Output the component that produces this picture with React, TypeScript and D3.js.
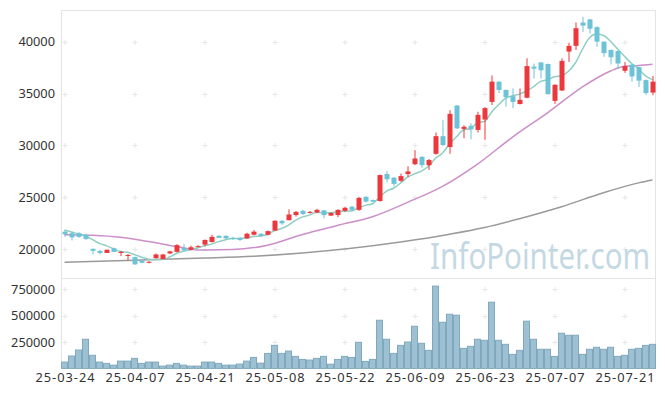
import { useEffect, useRef } from 'react';
import * as d3 from 'd3';

const dates = [
  '25-03-24', '25-03-25', '25-03-26', '25-03-27', '25-03-28', '25-03-31',
  '25-04-01', '25-04-02', '25-04-03', '25-04-04',
  '25-04-07', '25-04-08', '25-04-09', '25-04-10', '25-04-11',
  '25-04-14', '25-04-15', '25-04-16', '25-04-17', '25-04-18',
  '25-04-21', '25-04-22', '25-04-23', '25-04-24', '25-04-25',
  '25-04-28', '25-04-29', '25-04-30', '25-05-02', '25-05-07',
  '25-05-08', '25-05-09', '25-05-12', '25-05-13', '25-05-14', '25-05-15', '25-05-16',
  '25-05-19', '25-05-20', '25-05-21', '25-05-22', '25-05-23',
  '25-05-26', '25-05-27', '25-05-28', '25-05-29', '25-05-30',
  '25-06-02', '25-06-04', '25-06-05',
  '25-06-09', '25-06-10', '25-06-11', '25-06-12', '25-06-13',
  '25-06-16', '25-06-17', '25-06-18', '25-06-19', '25-06-20',
  '25-06-23', '25-06-24', '25-06-25', '25-06-26', '25-06-27',
  '25-06-30', '25-07-01', '25-07-02', '25-07-03', '25-07-04',
  '25-07-07', '25-07-08', '25-07-09', '25-07-10', '25-07-11',
  '25-07-14', '25-07-15', '25-07-16', '25-07-17', '25-07-18',
  '25-07-21', '25-07-22', '25-07-23', '25-07-24', '25-07-25',
];

const opens = [
  21700, 21550, 21550, 21400, 20050, 19850, 19650, 20100, 19650, 19400,
  19250, 18900, 18700, 19150, 19050, 19600, 19750, 20150, 19950, 20250,
  20450, 20700, 21300, 21300, 21100, 21100, 21050, 21400, 21500, 21400,
  21800, 22750, 22800, 23300, 23700, 23500, 23550, 23750, 23250, 23300,
  23700, 24100, 23800, 25050, 24750, 24650, 27250, 26900, 26600, 27250,
  28200, 28900, 28100, 29200, 30900, 29850, 33850, 31600, 31900, 31500,
  32500, 34200, 36150, 35350, 34750, 34000, 34600, 37600, 38000, 37850,
  34300, 35300, 39050, 39600, 41850, 42150, 41400, 40000, 39200, 39100,
  37200, 37800, 37550, 36300, 35100,
];
const highs = [
  21850, 21650, 21650, 21500, 20050, 19950, 20000, 20150, 19850, 19550,
  19300, 18950, 18850, 19600, 19550, 19850, 20500, 20500, 20350, 20400,
  20950, 21400, 21350, 21350, 21200, 21150, 21600, 21850, 21550, 21800,
  22800, 22800, 23850, 23700, 23800, 23700, 23900, 23800, 23550, 23850,
  24100, 24200, 25050, 25150, 24800, 27200, 27550, 26950, 27300, 28000,
  29550, 29000, 28700, 31250, 32450, 33400, 33900, 31950, 32150, 33250,
  33700, 36750, 36200, 35400, 35500, 35500, 38400, 37900, 38050, 37900,
  35900, 38400, 39900, 41850, 42400, 42200, 41500, 40050, 39250, 39150,
  38050, 37850, 37600, 36350, 36700,
];
const lows = [
  21200, 20850, 21100, 20900, 19500, 19500, 19650, 19750, 19350, 18950,
  18500, 18650, 18650, 19100, 19050, 19550, 19700, 19850, 19900, 20200,
  20300, 20650, 21100, 21000, 20900, 20800, 21000, 21350, 21200, 21350,
  21750, 22350, 22800, 23150, 23300, 23450, 23500, 23000, 23200, 23100,
  23600, 23700, 23700, 24500, 24550, 24600, 26450, 26050, 26500, 26950,
  28100, 27850, 27650, 29100, 29950, 29200, 31600, 30700, 30600, 31250,
  30550, 33900, 35050, 33750, 33600, 33950, 34550, 36450, 36450, 34900,
  34000, 35250, 38050, 39200, 40950, 40800, 39500, 38550, 37800, 37350,
  37000, 36150, 35650, 34850, 34850,
];
const closes = [
  21450, 21150, 21200, 21000, 19850, 19650, 19950, 19750, 19750, 19450,
  18550, 18700, 18800, 19500, 19500, 19800, 20400, 19900, 20200, 20300,
  20900, 21200, 21100, 21050, 21000, 20900, 21500, 21700, 21300, 21750,
  22750, 22500, 23350, 23600, 23400, 23600, 23800, 23300, 23500, 23800,
  24000, 23800, 24950, 24600, 24600, 27150, 26750, 26300, 27050, 27500,
  28750, 28100, 28600, 30900, 30050, 33050, 31650, 31800, 31550, 32950,
  33600, 36150, 35350, 34650, 34200, 34400, 37650, 37400, 37250, 34950,
  35850, 38150, 39600, 41300, 41550, 41250, 40000, 38900, 38500, 37900,
  37650, 36650, 36250, 35050, 36150,
];
const volumes = [
  60000, 117000, 174000, 276000, 124000, 60000, 47500, 31000, 69000, 69000,
  95000, 47500, 60000, 60000, 22000, 31000, 47500, 31000, 22000, 22000,
  60000, 60000, 47500, 31000, 31000, 41000, 69000, 104000, 50000, 142000,
  218000, 142000, 164000, 114000, 85000, 79000, 95000, 114000, 40000, 85000,
  114000, 104000, 247000, 66000, 85000, 456000, 276000, 142000, 218000, 250000,
  399000, 238000, 171000, 779000, 437000, 513000, 504000, 190000, 209000, 276000,
  266000, 627000, 266000, 228000, 133000, 171000, 447000, 276000, 181000, 181000,
  114000, 333000, 314000, 314000, 133000, 181000, 200000, 181000, 200000, 114000,
  124000, 181000, 190000, 218000, 228000,
];

// moving averages
const ma5 = [
  21850, 21670, 21500, 21270, 20930, 20570, 20330, 20040, 19790, 19710,
  19490, 19240, 19050, 19000, 19010, 19260, 19600, 19820, 19960, 20120,
  20340, 20500, 20740, 20910, 21050, 21050, 21110, 21230, 21280, 21430,
  21800, 22000, 22330, 22790, 23120, 23290, 23550, 23540, 23520, 23600,
  23680, 23680, 24010, 24230, 24390, 25020, 25610, 25880, 26370, 26950,
  27270, 27540, 28000, 28770, 29280, 30140, 30850, 31490, 31620, 32200,
  32310, 33210, 33920, 34540, 34790, 34950, 35250, 35660, 36180, 36330,
  36620, 36720, 37160, 37970, 39290, 40370, 40740, 40600, 40040, 39310,
  38590, 37920, 37390, 36700, 36350,
];
const ma20At = [0, 4, 8, 12, 16, 19, 24, 29, 34, 39, 44, 49, 54, 59, 64, 69, 74, 76, 78, 80, 82, 84];
const ma20 = [
  21410, 21350, 21160, 20750, 20270, 19940, 19970, 20400, 21430, 22300, 23140,
  24520, 26060, 28210, 30810, 33150, 35650, 36480, 37180, 37630, 37700, 37820,
];
const maLongAt = [0, 10, 20, 27, 34, 41, 48, 55, 60, 65, 71, 77, 82, 84];
const maLong = [
  18750, 18950, 19150, 19330, 19650, 20100, 20700, 21450, 22100, 22950, 24100, 25450, 26400, 26680,
];

const priceTicks = [20000, 25000, 30000, 35000, 40000];
const volumeTicks = [250000, 500000, 750000];
const dateTicks = [
  '25-03-24', '25-04-07', '25-04-21', '25-05-08', '25-05-22',
  '25-06-09', '25-06-23', '25-07-07', '25-07-21',
];

export default function App() {
  const svgRef = useRef<SVGSVGElement>(null);

  useEffect(() => {
    if (!svgRef.current) return;
    const svg = d3.select(svgRef.current);
    svg.selectAll('*').remove();

    const left = 60.5;
    const right = 655.5;
    const top = 10;
    const split = 278;
    const bottom = 368.4;
    const font = "'Noto Sans', 'DejaVu Sans', sans-serif";

    const x = d3.scaleBand().domain(dates).range([left, right]);
    const cx = (d: string) => (x(d) as number) + 4;
    const y = d3.scaleLinear().domain([17235, 43054]).range([split, top]);
    const yv = d3.scaleLinear().domain([0, 856000]).range([bottom, split]);

    // frame
    const frame = svg.append('g').attr('stroke', '#e4e4e4').attr('stroke-width', 1);
    frame.append('line').attr('x1', 61).attr('x2', 656).attr('y1', 10.5).attr('y2', 10.5);
    frame.append('line').attr('x1', 61).attr('x2', 656).attr('y1', 278.5).attr('y2', 278.5);
    frame.append('line').attr('x1', 61).attr('x2', 656).attr('y1', 368.5).attr('y2', 368.5);
    frame.append('line').attr('x1', 61.5).attr('x2', 61.5).attr('y1', 10).attr('y2', 369);
    frame.append('line').attr('x1', 655.5).attr('x2', 655.5).attr('y1', 10).attr('y2', 369);

    // grid crosses
    const crossY = [...priceTicks.map((t) => Math.round(y(t)) + 0.5), ...volumeTicks.map((t) => Math.round(yv(t)) + 0.5)];
    const cross = svg.append('g').attr('stroke', '#e6e6e6').attr('stroke-width', 1);
    dateTicks.forEach((d) => {
      const px = cx(d) + 0.5;
      crossY.forEach((py) => {
        cross.append('line').attr('x1', px - 2.5).attr('x2', px + 2.5).attr('y1', py).attr('y2', py);
        cross.append('line').attr('x1', px).attr('x2', px).attr('y1', py - 2.5).attr('y2', py + 2.5);
      });
    });

    // watermark, squeezed horizontally like the original
    svg.append('text')
      .attr('transform', 'translate(430,269) scale(0.82,1)')
      .attr('font-family', font)
      .attr('font-size', 36)
      .attr('fill', '#b4cedc')
      .attr('opacity', 0.78)
      .text('InfoPointer.com');

    // volume
    svg.append('g')
      .selectAll('rect')
      .data(dates)
      .join('rect')
      .attr('x', (d) => (x(d) as number) + 1)
      .attr('width', 6)
      .attr('y', (_d, i) => yv(volumes[i]))
      .attr('height', (_d, i) => bottom - yv(volumes[i]))
      .attr('fill', '#9dc1d3')
      .attr('stroke', '#80a9be')
      .attr('stroke-width', 1);

    // moving averages
    const lineOf = (idx: number[], vals: number[]) =>
      d3.line<number>()
        .x((_v, i) => cx(dates[idx[i]]))
        .y((v) => y(v))
        .curve(d3.curveMonotoneX)(vals);

    svg.append('path')
      .attr('d', lineOf(maLongAt, maLong))
      .attr('fill', 'none')
      .attr('stroke', '#9a9a9a')
      .attr('stroke-width', 1.5);
    svg.append('path')
      .attr('d', lineOf(ma20At, ma20))
      .attr('fill', 'none')
      .attr('stroke', '#cc8fc8')
      .attr('stroke-width', 1.5);
    svg.append('path')
      .attr('d', lineOf(d3.range(dates.length), ma5))
      .attr('fill', 'none')
      .attr('stroke', '#8fcfc3')
      .attr('stroke-width', 1.5);

    // candles
    const candles = svg.append('g').selectAll('g').data(dates).join('g');
    const colorOf = (i: number) => (closes[i] >= opens[i] ? '#ec383d' : '#6cc3d8');
    candles.append('line')
      .attr('x1', (d) => cx(d) + 0.5)
      .attr('x2', (d) => cx(d) + 0.5)
      .attr('y1', (_d, i) => y(highs[i]))
      .attr('y2', (_d, i) => y(lows[i]))
      .attr('stroke', (_d, i) => colorOf(i))
      .attr('stroke-width', 1);
    candles.append('rect')
      .attr('x', (d) => (x(d) as number) + 2)
      .attr('width', 5)
      .attr('y', (_d, i) => y(Math.max(opens[i], closes[i])))
      .attr('height', (_d, i) => Math.max(1, Math.abs(y(opens[i]) - y(closes[i]))))
      .attr('fill', (_d, i) => colorOf(i));

    // axis labels
    const labels = svg.append('g').attr('font-family', font).attr('font-size', 12.8).attr('fill', '#333');
    priceTicks.forEach((t) => {
      labels.append('text').attr('x', 55).attr('y', y(t)).attr('dy', '0.36em').attr('text-anchor', 'end').text(t);
    });
    volumeTicks.forEach((t) => {
      labels.append('text').attr('x', 55).attr('y', yv(t)).attr('dy', '0.36em').attr('text-anchor', 'end').text(t);
    });
    dateTicks.forEach((d) => {
      labels.append('text')
        .attr('x', cx(d) + 0.5)
        .attr('y', 382)
        .attr('text-anchor', 'middle')
        .attr('textLength', 59)
        .attr('lengthAdjust', 'spacing')
        .text(d);
    });
  }, []);

  return (
    <svg
      ref={svgRef}
      width={665}
      height={396}
      style={{ position: 'absolute', left: 0, top: 0, background: '#fff' }}
    />
  );
}
